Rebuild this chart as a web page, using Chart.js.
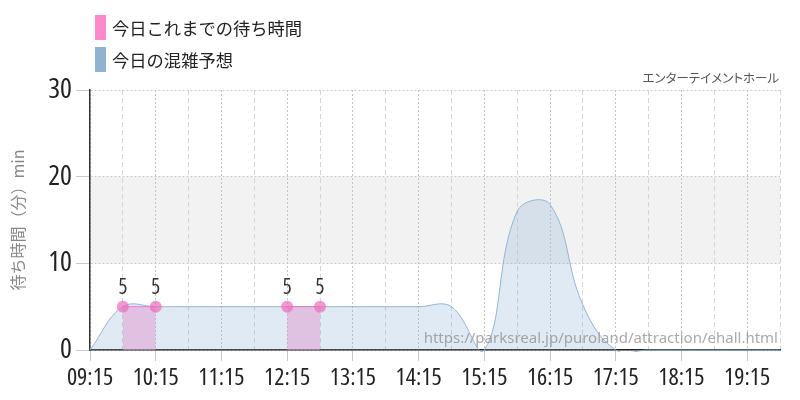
<!DOCTYPE html>
<html>
<head>
<meta charset="utf-8">
<script src="https://cdn.jsdelivr.net/npm/chart.js@4.4.1/dist/chart.umd.min.js"></script>
<style>
  html, body { margin: 0; padding: 0; background: #fff; }
  #wrap { position: relative; width: 800px; height: 400px; overflow: hidden; }
  #c { position: absolute; left: 0; top: 0; }
  .lg { position: absolute; left: 95px; height: 25px; display: flex; align-items: center;
        font-family: 'Noto Sans CJK JP', 'Noto Sans', sans-serif; font-size: 17.3px; color: #222; white-space: nowrap; }
  .lg span.box { display: inline-block; width: 11px; height: 25px; margin-right: 6px; }
  #title { position: absolute; right: 21px; top: 68px; font-family: 'Noto Sans CJK JP', sans-serif;
           font-size: 12.5px; color: #555; white-space: nowrap; line-height: 20px;
           font-feature-settings: "palt"; }
  #wm { position: absolute; right: 22px; top: 326px; font-family: 'Noto Sans', 'DejaVu Sans', sans-serif;
        font-size: 15px; color: rgba(140,140,140,0.75); white-space: nowrap; line-height: 22px; }
</style>
</head>
<body>
<div id="wrap">
  <canvas id="c" width="800" height="400"></canvas>
  <div class="lg" style="top:15px"><span class="box" style="background:#ff88cc"></span><span id="lg1"></span></div>
  <div class="lg" style="top:47px"><span class="box" style="background:#8fb3d0"></span><span id="lg2"></span></div>
  <div id="title"></div>
  <div id="wm"></div>
</div>
<script>
// ---- data ----
const seriesNames = ['今日これまでの待ち時間', '今日の混雑予想'];
const chartTitle = 'エンターテイメントホール';
const yAxisTitle = '待ち時間（分）min';
const sourceUrl = 'https://parksreal.jp/puroland/attraction/ehall.html';

const forecastTimes = [
  '09:15','09:45','10:15','10:45','11:15','11:45','12:15','12:45','13:15','13:45','14:15',
  '14:45','15:15','15:45','16:15','16:45','17:15','17:45','18:15','18:45','19:15','19:45'
];
const forecastValues = [
  0, 5, 5, 5, 5, 5, 5, 5, 5, 5, 5,
  5, 0, 16, 16.8, 5.2, 0, 0, 0, 0, 0, 0
];

const actualTimes  = ['09:45', '10:15', '10:45', '12:15', '12:45'];
const actualValues = [5, 5, null, 5, 5];

const xTickLabels = ['09:15','10:15','11:15','12:15','13:15','14:15','15:15','16:15','17:15','18:15','19:15'];
const yTickValues = [0, 10, 20, 30];
const bandRange = [10, 20];
const axisStart = '09:15';
const axisEnd = '19:45';

// ---- helpers ----
const toMin = t => { const [h, m] = t.split(':').map(Number); return h * 60 + m; };
const base = toMin(axisStart);
const fmt = v => { const t = base + v; const h = Math.floor(t / 60), m = t % 60;
  return String(h).padStart(2, '0') + ':' + String(m).padStart(2, '0'); };

document.getElementById('lg1').textContent = seriesNames[0];
document.getElementById('lg2').textContent = seriesNames[1];
document.getElementById('title').textContent = chartTitle;
document.getElementById('wm').textContent = sourceUrl;

// choose the installed narrow face whose width is closest to the reference digits
function pickNumFont() {
  const c = document.createElement('canvas').getContext('2d');
  const cands = [
    { w: 'normal condensed', family: "'Noto Sans'" },
    { w: 'normal extra-condensed', family: "'Noto Sans'" },
    { w: 'normal condensed', family: "Roboto" },
    { w: 'normal condensed', family: "'Open Sans'" },
    { w: 'normal', family: "'Liberation Sans Narrow'" },
    { w: 'normal', family: "'DejaVu Sans Condensed'" }
  ];
  let best = cands[cands.length - 1], bd = 1e9;
  for (const f of cands) {
    c.font = f.w + ' 23px ' + f.family;
    const w = c.measureText('09:15').width;
    const d = Math.abs(w - 42);
    if (d < bd) { bd = d; best = f; }
  }
  return best;
}
const NF = pickNumFont();

const bandPlugin = {
  id: 'band',
  beforeDraw(chart) {
    const { ctx, chartArea, scales } = chart;
    const y1 = scales.y.getPixelForValue(bandRange[1]);
    const y0 = scales.y.getPixelForValue(bandRange[0]);
    ctx.save();
    ctx.fillStyle = '#f2f2f2';
    ctx.fillRect(chartArea.left, y1, chartArea.right - chartArea.left, y0 - y1);
    ctx.restore();
  }
};

const labelPlugin = {
  id: 'ptlabels',
  afterDatasetsDraw(chart) {
    const { ctx } = chart;
    const meta = chart.getDatasetMeta(0);
    const ds = chart.data.datasets[0].data;
    ctx.save();
    ctx.font = NF.w + ' 21px ' + NF.family;
    ctx.fillStyle = '#333';
    ctx.textAlign = 'center';
    ctx.textBaseline = 'middle';
    meta.data.forEach((pt, i) => {
      const v = ds[i].y;
      if (v === null || v === undefined) return;
      ctx.fillText(String(v), pt.x, pt.y - 19);
    });
    ctx.restore();
  }
};

const isHour = c => c.tick && xTickLabels.includes(fmt(c.tick.value));

new Chart(document.getElementById('c'), {
  type: 'line',
  data: {
    datasets: [
      {
        label: seriesNames[0],
        data: actualTimes.map((t, i) => ({ x: toMin(t) - base, y: actualValues[i] })),
        borderColor: 'rgba(235,110,195,0.85)',
        borderWidth: 1,
        backgroundColor: 'rgba(225,160,210,0.55)',
        fill: 'origin',
        tension: 0,
        pointRadius: 6,
        pointBorderWidth: 0,
        pointBackgroundColor: 'rgba(240,110,190,0.72)',
        spanGaps: false
      },
      {
        label: seriesNames[1],
        data: forecastTimes.map((t, i) => ({ x: toMin(t) - base, y: forecastValues[i] })),
        borderColor: 'rgba(140,175,210,0.9)',
        borderWidth: 1,
        backgroundColor: 'rgba(140,180,215,0.28)',
        fill: 'origin',
        tension: 0.4,
        capBezierPoints: false,
        clip: 2,
        pointRadius: 0
      }
    ]
  },
  options: {
    responsive: false,
    animation: false,
    events: [],
    layout: { padding: { top: 90, right: 20, left: 0, bottom: 0 } },
    plugins: { legend: { display: false }, title: { display: false }, tooltip: { enabled: false } },
    scales: {
      x: {
        type: 'linear',
        min: 0,
        max: toMin(axisEnd) - base,
        afterFit(s) { s.height = 50; },
        afterBuildTicks(s) {
          const t = [];
          for (let v = s.min; v <= s.max; v += 30) t.push({ value: v });
          s.ticks = t;
        },
        ticks: {
          autoSkip: false,
          maxRotation: 0,
          padding: 3,
          color: '#222',
          font: { family: NF.family, weight: NF.w, size: 24 },
          callback: v => (xTickLabels.includes(fmt(v)) ? fmt(v) : '')
        },
        grid: {
          color: c => (isHour(c) ? '#c4c4c4' : '#d6d6d6'),
          lineWidth: 1,
          tickLength: 11,
          tickColor: c => (isHour(c) ? '#c8c8c8' : 'rgba(0,0,0,0)'),
          tickBorderDash: []
        },
        border: {
          display: true,
          color: '#222',
          width: 1.5,
          dash: c => (isHour(c) ? [2, 2] : [5, 3])
        }
      },
      y: {
        min: 0,
        max: 30,
        afterFit(s) { s.width = 90; },
        afterBuildTicks(s) { s.ticks = yTickValues.map(v => ({ value: v })); },
        ticks: {
          padding: 4,
          color: '#222',
          font: { family: NF.family, weight: NF.w, size: 28 }
        },
        title: {
          display: true,
          text: yAxisTitle,
          color: '#888',
          font: { family: "'Noto Sans CJK JP', sans-serif", size: 16 },
          padding: { top: 8, bottom: 0 }
        },
        grid: {
          color: '#c8c8c8',
          lineWidth: 1,
          tickLength: 14,
          tickColor: '#c8c8c8',
          tickBorderDash: []
        },
        border: { display: true, color: '#333', width: 1.5, dash: [2, 2] }
      }
    }
  },
  plugins: [bandPlugin, labelPlugin]
});
</script>
</body>
</html>
